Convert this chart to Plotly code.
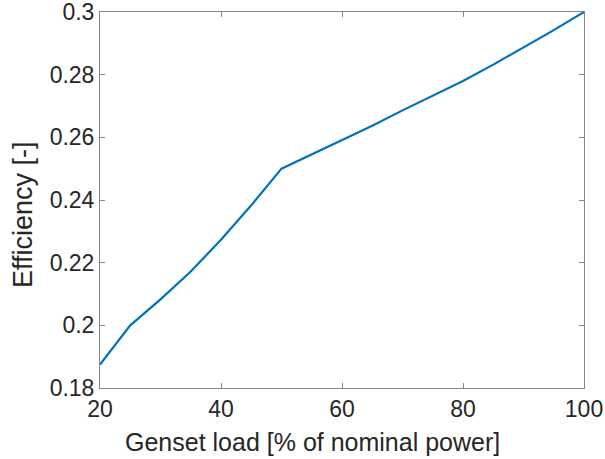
import plotly.graph_objects as go

# Genset load [% of nominal power] and efficiency
load_pct = [20, 25, 30, 35, 40, 45, 50, 55, 60, 65, 70, 75, 80, 85, 90, 95, 100]
efficiency = [0.1875, 0.2, 0.2083, 0.2172, 0.2273, 0.2383, 0.25, 0.2545, 0.259,
              0.2637, 0.2686, 0.2732, 0.278, 0.2832, 0.2887, 0.2942, 0.3]

x_ticks = [20, 40, 60, 80, 100]
y_ticks = [0.18, 0.2, 0.22, 0.24, 0.26, 0.28, 0.3]
y_tick_text = ['0.18', '0.2', '0.22', '0.24', '0.26', '0.28', '0.3']

x_title = 'Genset load [% of nominal power]'
y_title = 'Efficiency [-]'

fig = go.Figure(go.Scatter(x=load_pct, y=efficiency, mode='lines',
                           line=dict(color='#0072BD', width=2.2)))

axis_style = dict(showline=True, linecolor='#868686', linewidth=1, mirror='ticks',
                  ticks='inside', ticklen=5, tickcolor='#868686', showgrid=False,
                  zeroline=False, automargin=False, ticklabeloverflow='allow',
                  tickfont=dict(size=23, color='#262626'))

fig.update_layout(
    width=605, height=459,
    margin=dict(l=100, r=21, t=12, b=71),
    paper_bgcolor='white', plot_bgcolor='white',
    font=dict(family='Liberation Sans, Arial, sans-serif'),
    showlegend=False,
    xaxis=dict(range=[20, 100], tickvals=x_ticks, **axis_style),
    yaxis=dict(range=[0.18, 0.3], tickvals=y_ticks, ticktext=y_tick_text, **axis_style),
)

# axis titles as annotations: in the original they sit off-centre
fig.add_annotation(text=x_title, xref='paper', yref='paper', x=0.44, y=-0.144,
                   xanchor='center', yanchor='middle', showarrow=False,
                   font=dict(size=25, color='#262626'))
fig.add_annotation(text=y_title, xref='paper', yref='paper', x=-0.159, y=0.46,
                   xanchor='center', yanchor='middle', textangle=-90, showarrow=False,
                   font=dict(size=27, color='#262626'))

# drop the page's default body margin so the figure fills the window
fig.write_html("out.html", config={'displayModeBar': False},
               post_script="document.body.style.margin='0';")
